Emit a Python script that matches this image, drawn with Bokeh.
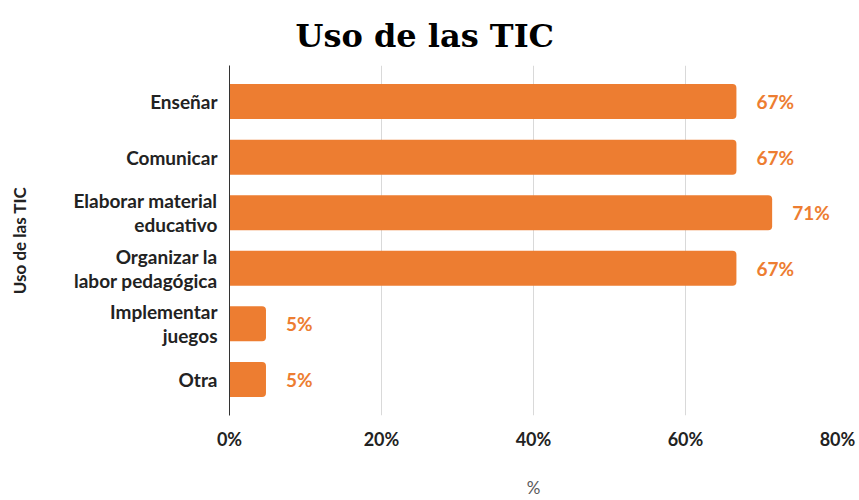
from bokeh.plotting import figure
from bokeh.models import Range1d, FixedTicker, ColumnDataSource
from bokeh.core.properties import value
from bokeh.embed import file_html
from bokeh.resources import INLINE

categories = ["Enseñar", "Comunicar", "Elaborar material\neducativo",
              "Organizar la\nlabor pedagógica", "Implementar\njuegos", "Otra"]
values = [66.7, 66.7, 71.4, 66.7, 4.8, 4.8]
value_labels = ["67%", "67%", "71%", "67%", "5%", "5%"]
x_ticks = [0, 20, 40, 60, 80]
x_tick_labels = ["0%", "20%", "40%", "60%", "80%"]

ORANGE = "#ED7D31"
FONT = "Lato"

positions = list(range(len(categories)))

p = figure(width=859, height=500, output_backend="svg", toolbar_location=None,
           x_range=Range1d(0, 80), y_range=Range1d(5.65, -0.65),
           min_border_left=229, min_border_right=22, min_border_top=65,
           min_border_bottom=84, title="Uso de las TIC")
p.outline_line_color = None

p.title.align = "left"
p.title.vertical_align = "top"
p.title.offset = 66
p.title.text_font = "DejaVu Serif"
p.title.text_font_style = "bold"
p.title.text_font_size = "32px"
p.title.text_color = "#000000"
p.title.standoff = 18

src = ColumnDataSource(dict(y=positions, v=values, lab=value_labels))
p.hbar(y="y", right="v", left=0, height=0.63, source=src, fill_color=ORANGE,
       line_color=None, border_radius=(0, 4, 4, 0))
p.text(x="v", y="y", text="lab", source=src, x_offset=20, text_align="left",
       text_baseline="middle", text_color=ORANGE, text_font=value(FONT),
       text_font_style="bold", text_font_size="19px")

# x axis
xa = p.xaxis[0]
xa.ticker = FixedTicker(ticks=x_ticks)
xa.major_label_overrides = {t: l for t, l in zip(x_ticks, x_tick_labels)}
xa.axis_line_color = None
xa.major_tick_line_color = None
xa.minor_tick_line_color = None
xa.major_label_text_font = FONT
xa.major_label_text_font_style = "bold"
xa.major_label_text_font_size = "18px"
xa.major_label_text_color = "#222222"
xa.major_label_standoff = 6
xa.axis_label = "%"
xa.axis_label_text_font = FONT
xa.axis_label_text_font_style = "normal"
xa.axis_label_text_font_size = "17px"
xa.axis_label_text_color = "#595959"
xa.axis_label_standoff = 24

# y axis
ya = p.yaxis[0]
ya.ticker = FixedTicker(ticks=positions)
ya.major_label_overrides = {i: c for i, c in zip(positions, categories)}
ya.axis_line_color = "#333333"
ya.axis_line_width = 1
ya.major_tick_line_color = None
ya.minor_tick_line_color = None
ya.major_label_text_font = FONT
ya.major_label_text_font_style = "bold"
ya.major_label_text_font_size = "19px"
ya.major_label_text_color = "#222222"
ya.major_label_text_line_height = 1.05
ya.major_label_standoff = 6
ya.axis_label = "Uso de las TIC"
ya.axis_label_text_font = FONT
ya.axis_label_text_font_style = "bold"
ya.axis_label_text_font_size = "17px"
ya.axis_label_text_color = "#222222"
ya.axis_label_standoff = 40

p.ygrid.grid_line_color = None
p.xgrid.grid_line_color = "#D9D9D9"
p.xgrid.grid_line_width = 1

open("out.html", "w").write(file_html(p, INLINE))
